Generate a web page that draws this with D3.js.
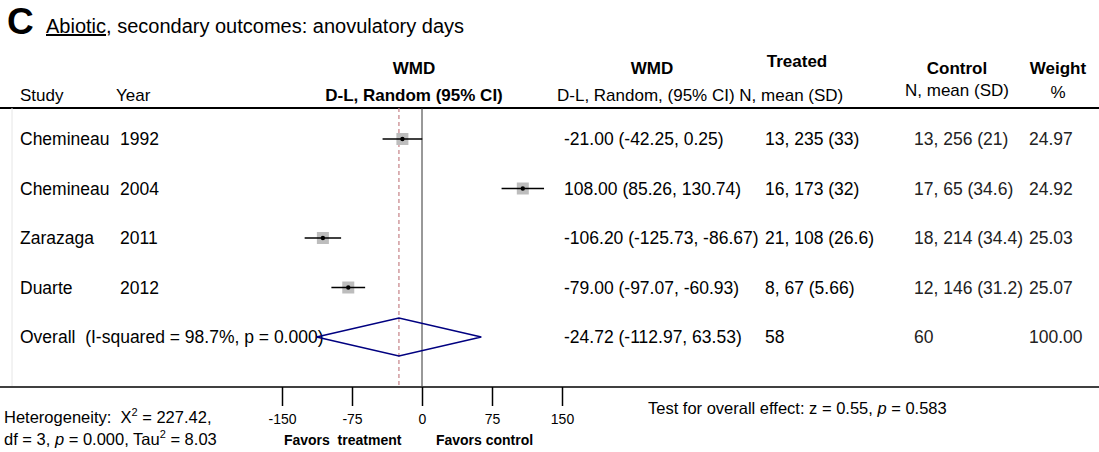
<!DOCTYPE html>
<html>
<head>
<meta charset="utf-8">
<script src="https://cdn.jsdelivr.net/npm/d3@7"></script>
<style>
  body { margin: 0; background: #fff; }
  svg { display: block; font-family: "Liberation Sans", Arial, sans-serif; }
  svg text { white-space: pre; }
</style>
</head>
<body>
<svg id="forest" width="1099" height="452"></svg>
<script>
// study rows
var studies = ["Chemineau", "Chemineau", "Zarazaga", "Duarte"];
var years = ["1992", "2004", "2011", "2012"];
var wmd = [-21.00, 108.00, -106.20, -79.00];
var ciLow = [-42.25, 85.26, -125.73, -97.07];
var ciHigh = [0.25, 130.74, -86.67, -60.93];
var treated = ["13, 235 (33)", "16, 173 (32)", "21, 108 (26.6)", "8, 67 (5.66)"];
var control = ["13, 256 (21)", "17, 65 (34.6)", "18, 214 (34.4)", "12, 146 (31.2)"];
var weights = [24.97, 24.92, 25.03, 25.07];

// pooled estimate
var overallLabel = "Overall  (I-squared = 98.7%, p = 0.000)";
var overallEst = -24.72, overallLow = -112.97, overallHigh = 63.53;
var overallTreated = "58", overallControl = "60", overallWeight = 100.00;

var axisTicks = [-150, -75, 0, 75, 150];

var svg = d3.select("#forest"),
    width = +svg.attr("width"),
    plotTop = 108, plotBottom = 386;

var x = d3.scaleLinear().domain([-150, 150]).range([282, 562]);
var rows = studies.map(function(d, i) { return "r" + i; }).concat(["overall"]);
var y = d3.scalePoint().domain(rows).range([139, 337]);

var locale = d3.formatLocale({ decimal: ".", thousands: ",", grouping: [3], currency: ["", ""], minus: "-" });
var fmt = locale.format(".2f");
var fs = 17.5;

// title
svg.append("text").attr("x", 7).attr("y", 34)
  .attr("font-size", 37).attr("font-weight", "bold").text("C");
var title = svg.append("text").attr("x", 46).attr("y", 33).attr("font-size", 20);
title.append("tspan").attr("text-decoration", "underline").text("Abiotic");
title.append("tspan").text(", secondary outcomes: anovulatory days");

// headers
var head = svg.append("g").attr("font-size", 17);
head.append("text").attr("x", 20).attr("y", 101).text("Study");
head.append("text").attr("x", 116).attr("y", 101).text("Year");
head.append("text").attr("x", 414).attr("y", 74).attr("text-anchor", "middle").attr("font-weight", "bold").text("WMD");
head.append("text").attr("x", 414).attr("y", 101).attr("text-anchor", "middle").attr("font-weight", "bold").text("D-L, Random (95% CI)");
head.append("text").attr("x", 652).attr("y", 74).attr("text-anchor", "middle").attr("font-weight", "bold").text("WMD");
head.append("text").attr("x", 557).attr("y", 101).text("D-L, Random, (95% CI) N, mean (SD)");
head.append("text").attr("x", 797).attr("y", 67).attr("text-anchor", "middle").attr("font-weight", "bold").text("Treated");
head.append("text").attr("x", 957).attr("y", 74).attr("text-anchor", "middle").attr("font-weight", "bold").text("Control");
head.append("text").attr("x", 905).attr("y", 96).text("N, mean (SD)");
head.append("text").attr("x", 1058).attr("y", 74).attr("text-anchor", "middle").attr("font-weight", "bold").text("Weight");
head.append("text").attr("x", 1058).attr("y", 98).attr("text-anchor", "middle").text("%");

// frame lines
svg.append("line").attr("x1", 0).attr("x2", width).attr("y1", plotTop).attr("y2", plotTop)
  .attr("stroke", "#000").attr("stroke-width", 2);
svg.append("line").attr("x1", 12).attr("x2", 12).attr("y1", plotTop).attr("y2", plotBottom)
  .attr("stroke", "#e6e6e6");
svg.append("line").attr("x1", x(0)).attr("x2", x(0)).attr("y1", plotTop).attr("y2", plotBottom)
  .attr("stroke", "#333");
svg.append("line").attr("x1", x(overallEst)).attr("x2", x(overallEst)).attr("y1", plotTop).attr("y2", plotBottom)
  .attr("stroke", "#c98a8f").attr("stroke-width", 1.3).attr("stroke-dasharray", "4,3");

// study markers
var data = studies.map(function(s, i) {
  return { key: "r" + i, study: s, year: years[i], est: wmd[i], lo: ciLow[i], hi: ciHigh[i],
           treated: treated[i], control: control[i], weight: weights[i] };
});

var marks = svg.selectAll(".study").data(data).enter().append("g").attr("class", "study");
marks.append("rect")
  .attr("x", function(d) { return x(d.est) - 6; })
  .attr("y", function(d) { return y(d.key) - 6; })
  .attr("width", 12).attr("height", 12)
  .attr("fill", "#bdbdbd");
marks.append("line")
  .attr("x1", function(d) { return x(d.lo); })
  .attr("x2", function(d) { return x(d.hi); })
  .attr("y1", function(d) { return y(d.key); })
  .attr("y2", function(d) { return y(d.key); })
  .attr("stroke", "#000").attr("stroke-width", 1.4);
marks.append("circle")
  .attr("cx", function(d) { return x(d.est); })
  .attr("cy", function(d) { return y(d.key); })
  .attr("r", 2.2).attr("fill", "#000");

// text columns
var colX = { study: 20, year: 120, wmd: 564, treated: 765, control: 914, weight: 1029 };
var cols = svg.append("g").attr("font-size", fs);
var rowsG = cols.selectAll(".row").data(data).enter().append("g");
rowsG.append("text").attr("x", colX.study).attr("y", function(d) { return y(d.key) + 6; }).text(function(d) { return d.study; });
rowsG.append("text").attr("x", colX.year).attr("y", function(d) { return y(d.key) + 6; }).text(function(d) { return d.year; });
rowsG.append("text").attr("x", colX.wmd).attr("y", function(d) { return y(d.key) + 6; })
  .text(function(d) { return fmt(d.est) + " (" + fmt(d.lo) + ", " + fmt(d.hi) + ")"; });
rowsG.append("text").attr("x", colX.treated).attr("y", function(d) { return y(d.key) + 6; }).text(function(d) { return d.treated; });
rowsG.append("text").attr("x", colX.control).attr("y", function(d) { return y(d.key) + 6; }).attr("fill", "#222").text(function(d) { return d.control; });
rowsG.append("text").attr("x", colX.weight).attr("y", function(d) { return y(d.key) + 6; }).attr("fill", "#222").text(function(d) { return fmt(d.weight); });

// overall row
var oy = y("overall");
svg.append("path")
  .attr("d", "M" + x(overallLow) + "," + oy + "L" + x(overallEst) + "," + (oy - 19) +
             "L" + x(overallHigh) + "," + oy + "L" + x(overallEst) + "," + (oy + 19) + "Z")
  .attr("fill", "none").attr("stroke", "#000080").attr("stroke-width", 1.5);
cols.append("text").attr("x", colX.study).attr("y", oy + 6).text(overallLabel);
cols.append("text").attr("x", colX.wmd).attr("y", oy + 6)
  .text(fmt(overallEst) + " (" + fmt(overallLow) + ", " + fmt(overallHigh) + ")");
cols.append("text").attr("x", colX.treated).attr("y", oy + 6).text(overallTreated);
cols.append("text").attr("x", colX.control).attr("y", oy + 6).attr("fill", "#222").text(overallControl);
cols.append("text").attr("x", colX.weight).attr("y", oy + 6).attr("fill", "#222").text(fmt(overallWeight));

// bottom axis
svg.append("line").attr("x1", 0).attr("x2", width).attr("y1", plotBottom + 1).attr("y2", plotBottom + 1)
  .attr("stroke", "#000").attr("stroke-width", 1.5);
var axis = svg.append("g").attr("transform", "translate(0," + (plotBottom + 1) + ")")
  .call(d3.axisBottom(x).tickValues(axisTicks).tickSize(19).tickPadding(8).tickFormat(locale.format("d")));
axis.select(".domain").remove();
axis.selectAll(".tick line").attr("stroke-width", 1.5);
axis.selectAll(".tick text").attr("font-size", 14).attr("font-family", "Liberation Sans, Arial, sans-serif");

svg.append("text").attr("x", x(-85)).attr("y", 445).attr("text-anchor", "middle")
  .attr("font-size", 14).attr("font-weight", "bold").text("Favors  treatment");
svg.append("text").attr("x", x(67)).attr("y", 445).attr("text-anchor", "middle")
  .attr("font-size", 14).attr("font-weight", "bold").text("Favors control");

// heterogeneity note
var het1 = svg.append("text").attr("x", 4).attr("y", 423).attr("font-size", 16.5);
het1.append("tspan").text("Heterogeneity:  X");
het1.append("tspan").attr("dy", -7).attr("font-size", 11).text("2");
het1.append("tspan").attr("dy", 7).text(" = 227.42,");
var het2 = svg.append("text").attr("x", 4).attr("y", 445).attr("font-size", 16.5);
het2.append("tspan").text("df = 3, ");
het2.append("tspan").attr("font-style", "italic").text("p");
het2.append("tspan").text(" = 0.000, Tau");
het2.append("tspan").attr("dy", -7).attr("font-size", 11).text("2");
het2.append("tspan").attr("dy", 7).text(" = 8.03");

var test = svg.append("text").attr("x", 648).attr("y", 414).attr("font-size", 16.5);
test.append("tspan").text("Test for overall effect: z = 0.55, ");
test.append("tspan").attr("font-style", "italic").text("p");
test.append("tspan").text(" = 0.583");
</script>
</body>
</html>
